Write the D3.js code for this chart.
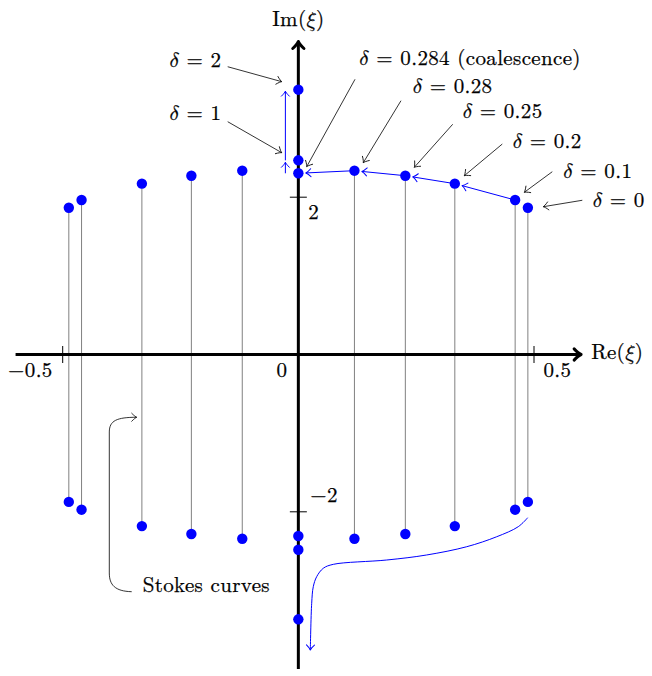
<!DOCTYPE html>
<html><head><meta charset="utf-8">
<script src="https://cdn.jsdelivr.net/npm/d3@7"></script>
<style>
body{margin:0;background:#fff}
svg{display:block}
</style>
</head><body>
<svg id="c" width="652" height="676"></svg>
<script>
// ---------- data ----------
const deltas      = [0, 0.1, 0.2, 0.25, 0.28];
const rootRe      = [0.487, 0.460, 0.332, 0.227, 0.119];
const upperIm     = [1.866, 1.964, 2.172, 2.273, 2.337];
const lowerIm     = [-1.874, -1.973, -2.182, -2.282, -2.342];
const axisDeltas  = [0.284, 1, 2];
const axisUpperIm = [2.304, 2.469, 3.367];
const axisLowerIm = [-2.308, -2.482, -3.367];
const xTicks      = [-0.5, 0.5];
const xTickLabels = ["\u22120.5", "0.5"];
const yTicks      = [2, -2];
const yTickLabels = ["2", "\u22122"];
const pathDeltas  = [0.1, 0.2, 0.25, 0.28];   // then coalescence on axis
const lowerCurveRe = [0.4866,0.4667,0.4209,0.3572,0.2723,0.1875,0.0742,0.0529,0.0389,0.0317,0.0283,0.0254];
const lowerCurveIm = [-2.075,-2.189,-2.317,-2.444,-2.549,-2.613,-2.668,-2.718,-2.825,-2.952,-3.163,-3.757];
const annLabels  = ["2", "1", "0.284 (coalescence)", "0.28", "0.25", "0.2", "0.1", "0"];
const annLabelRe = [-0.2734, -0.2734, 0.1293, 0.2426, 0.3487, 0.4548, 0.5622, 0.6245];
const annLabelIm = [3.655, 2.982, 3.681, 3.329, 3.003, 2.622, 2.248, 1.879];
const annFromRe  = [-0.1499, -0.1499, 0.1202, 0.2178, 0.3275, 0.4327, 0.5388, 0.6025];
const annFromIm  = [3.659, 2.960, 3.499, 3.227, 2.927, 2.676, 2.324, 1.961];
const annToRe    = [-0.0353, -0.0353, 0.0177, 0.1378, 0.2460, 0.3521, 0.4794, 0.5197];
const annToIm    = [3.469, 2.566, 2.388, 2.439, 2.380, 2.273, 2.062, 1.879];
const stokesLabel = "Stokes curves";
const stokesLabelPos = [-0.3303, -3.020];
const xAxisExtent = [-0.6, 0.6];
const yAxisExtent = [-4.0, 3.98];
const jumpRe = -0.0275;

// ---------- scales ----------
const x = d3.scaleLinear().domain([-0.5, 0.5]).range([62.7, 534]);
const y = d3.scaleLinear().domain([-2, 2]).range([511.8, 197.2]);

const svg = d3.select("#c");
const BLUE = "#0000ff";
const FONT = "'Latin Modern Roman','Liberation Serif',serif";
const MATH = "'Latin Modern Math','Latin Modern Roman','Liberation Serif',serif";
const FS = 21;
const DELTA = "\u{1D6FF}", XI = "\u{1D709}";

function txt(g, xx, yy, anchor) {
  return g.append("text").attr("x", xx).attr("y", yy)
    .attr("text-anchor", anchor || "start")
    .attr("font-family", FONT).attr("font-size", FS).attr("fill", "#000")
    .attr("letter-spacing", "0.35px")
    .attr("stroke", "#000").attr("stroke-width", 0.25);
}
function arrowHead(g, x1, y1, x2, y2, size, color, sw) {
  const a = Math.atan2(y2 - y1, x2 - x1) * 180 / Math.PI;
  const s = size;
  g.append("path")
    .attr("d", `M${-s},${-s*0.8} C${-s*0.55},${-s*0.32} ${-s*0.15},${-s*0.06} 0,0 C${-s*0.15},${s*0.06} ${-s*0.55},${s*0.32} ${-s},${s*0.8}`)
    .attr("transform", `translate(${x2},${y2}) rotate(${a})`)
    .attr("fill", "none").attr("stroke", color).attr("stroke-width", sw)
    .attr("stroke-linecap", "round").attr("stroke-linejoin", "round");
}
function arrowLine(g, x1, y1, x2, y2, color, sw, size) {
  g.append("line").attr("x1", x1).attr("y1", y1).attr("x2", x2).attr("y2", y2)
    .attr("stroke", color).attr("stroke-width", sw);
  arrowHead(g, x1, y1, x2, y2, size, color, sw);
}

// roots (both halves of the plane, mirrored in Re)
const roots = [];
rootRe.forEach((r, i) => {
  [r, -r].forEach(rr => roots.push({re: rr, up: upperIm[i], lo: lowerIm[i], d: deltas[i]}));
});

// ---------- Stokes curves (gray verticals) ----------
const gStokes = svg.append("g");
gStokes.selectAll("line").data(roots).join("line")
  .attr("x1", d => x(d.re)).attr("x2", d => x(d.re))
  .attr("y1", d => y(d.up)).attr("y2", d => y(d.lo))
  .attr("stroke", "#808080").attr("stroke-width", 1);

// ---------- axes ----------
const gAx = svg.append("g");
arrowLine(gAx, x(xAxisExtent[0]), y(0), x(xAxisExtent[1]), y(0), "#000", 3, 7);
arrowLine(gAx, x(0), y(yAxisExtent[0]), x(0), y(yAxisExtent[1]), "#000", 3, 7);
xTicks.forEach((t, i) => {
  gAx.append("line").attr("x1", x(t)).attr("x2", x(t)).attr("y1", y(0) - 8.5).attr("y2", y(0) + 8.5)
    .attr("stroke", "#000").attr("stroke-width", 1);
  txt(gAx, t < 0 ? x(t) - 10 : x(t) + 9.5, y(0) + 22, t < 0 ? "end" : "start").text(xTickLabels[i]);
});
txt(gAx, x(0) - 11, y(0) + 22, "end").text("0");
yTicks.forEach((t, i) => {
  gAx.append("line").attr("x1", x(0) - 8.5).attr("x2", x(0) + 8.5).attr("y1", y(t)).attr("y2", y(t))
    .attr("stroke", "#000").attr("stroke-width", 1);
  txt(gAx, x(0) + (t > 0 ? 10 : 12), t > 0 ? y(t) + 22 : y(t) - 10).text(yTickLabels[i]);
});
const reLab = txt(gAx, x(xAxisExtent[1]) + 10, y(0) + 4);
reLab.append("tspan").text("Re(");
reLab.append("tspan").attr("font-family", MATH).text(XI);
reLab.append("tspan").text(")");
const imLab = txt(gAx, x(0), y(yAxisExtent[1]) - 15, "middle");
imLab.append("tspan").text("Im(");
imLab.append("tspan").attr("font-family", MATH).text(XI);
imLab.append("tspan").text(")");

// ---------- blue trajectory (upper half) ----------
const gBlue = svg.append("g");
const traj = pathDeltas.map(dl => {
  const i = deltas.indexOf(dl);
  return [x(rootRe[i]), y(upperIm[i])];
});
traj.push([x(0), y(axisUpperIm[0])]);
for (let k = 0; k < traj.length - 1; k++) {
  const [x1, y1] = traj[k], [x2, y2] = traj[k + 1];
  const L = Math.hypot(x2 - x1, y2 - y1), sh = 7.5;
  const ex = x2 - (x2 - x1) / L * sh, ey = y2 - (y2 - y1) / L * sh;
  arrowLine(gBlue, x1, y1, ex, ey, BLUE, 1, 5);
}
// jumps along the imaginary axis
arrowLine(gBlue, x(jumpRe), y(axisUpperIm[0]), x(jumpRe), y(axisUpperIm[1]) + 2, BLUE, 1, 5);
arrowLine(gBlue, x(jumpRe), y(axisUpperIm[1]), x(jumpRe), y(axisUpperIm[2]) + 1.5, BLUE, 1, 5);

// lower half trajectory curve
const lc = lowerCurveRe.map((r, i) => [x(r), y(lowerCurveIm[i])]);
gBlue.append("path").attr("d", d3.line().curve(d3.curveCatmullRom.alpha(0.5))(lc))
  .attr("fill", "none").attr("stroke", BLUE).attr("stroke-width", 1);
const n = lc.length;
arrowHead(gBlue, lc[n-2][0], lc[n-2][1], lc[n-1][0], lc[n-1][1], 5, BLUE, 1);

// ---------- dots ----------
const gDots = svg.append("g");
const dotData = [];
roots.forEach(d => { dotData.push([d.re, d.up]); dotData.push([d.re, d.lo]); });
axisUpperIm.forEach(v => dotData.push([0, v]));
axisLowerIm.forEach(v => dotData.push([0, v]));
gDots.selectAll("circle").data(dotData).join("circle")
  .attr("cx", d => x(d[0])).attr("cy", d => y(d[1])).attr("r", 5.2).attr("fill", BLUE);

// ---------- annotations ----------
const gAnn = svg.append("g");
annLabels.forEach((lab, i) => {
  arrowLine(gAnn, x(annFromRe[i]), y(annFromIm[i]), x(annToRe[i]), y(annToIm[i]), "#000", 0.8, 5);
  const t = txt(gAnn, x(annLabelRe[i]), y(annLabelIm[i]));
  t.append("tspan").attr("font-family", MATH).text(DELTA);
  t.append("tspan").text(" = " + lab);
});
// Stokes curves bracket
const bx = v => x(v), by = v => y(v);
const p = d3.path();
p.moveTo(bx(-0.3536), by(-3.016));
p.bezierCurveTo(bx(-0.389), by(-3.010), bx(-0.4011), by(-2.93), bx(-0.4011), by(-2.778));
p.lineTo(bx(-0.4011), by(-0.985));
p.bezierCurveTo(bx(-0.4011), by(-0.84), bx(-0.385), by(-0.798), bx(-0.343), by(-0.798));
gAnn.append("path").attr("d", p.toString()).attr("fill", "none").attr("stroke", "#000").attr("stroke-width", 0.8);
arrowHead(gAnn, bx(-0.36), by(-0.798), bx(-0.343), by(-0.798), 5, "#000", 0.8);
txt(gAnn, x(stokesLabelPos[0]), y(stokesLabelPos[1])).text(stokesLabel);
</script>
</body></html>
